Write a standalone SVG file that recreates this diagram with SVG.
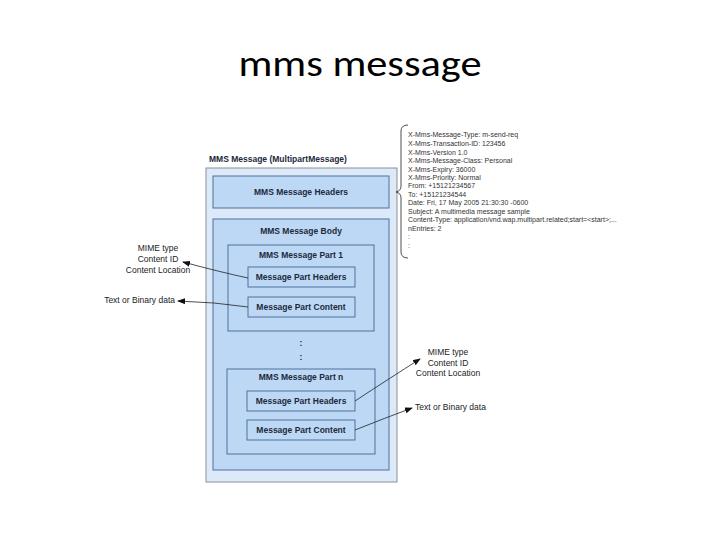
<svg xmlns="http://www.w3.org/2000/svg" width="720" height="540" viewBox="0 0 720 540">
<defs>
<style>
.outer{fill:#dce9f8;stroke:#8a9099;stroke-width:1}
.box{fill:#bcd8f5;stroke:#50709a;stroke-width:1}
.lbl{font-family:"Liberation Sans",Arial,sans-serif;font-weight:bold;font-size:8.5px;fill:#1c2a3c;text-anchor:middle}
.note{font-family:"Liberation Sans",Arial,sans-serif;font-size:8.5px;fill:#222}
.hdr{font-family:"Liberation Sans",Arial,sans-serif;font-size:7px;fill:#333}
.conn{fill:none;stroke:#222;stroke-width:0.8}
</style>
<marker id="ah" markerWidth="8" markerHeight="6" refX="7" refY="3" orient="auto" markerUnits="userSpaceOnUse">
<path d="M0,0 L8,3 L0,6 z" fill="#111"/>
</marker>
</defs>
<rect width="720" height="540" fill="#fff"/>
<text x="360" y="76" font-family="Carlito,'Open Sans','Noto Sans',sans-serif" font-size="36" text-anchor="middle" fill="#000" textLength="243" lengthAdjust="spacingAndGlyphs">mms message</text>

<g id="mms-message">
<text x="209" y="162" class="lbl" style="text-anchor:start">MMS Message (MultipartMessage)</text>
<rect class="outer" x="206" y="168" width="191" height="314"/>
</g>
<g id="headers">
<rect class="box" x="213" y="176" width="176" height="32"/>
<text x="301" y="195" class="lbl">MMS Message Headers</text>
</g>
<g id="body">
<rect class="box" x="213" y="219" width="176" height="251"/>
<text x="301" y="234" class="lbl">MMS Message Body</text>
</g>
<g id="part1">
<rect class="box" x="228" y="245" width="146" height="86"/>
<text x="301" y="258" class="lbl">MMS Message Part 1</text>
</g>
<g id="part1-headers">
<rect class="box" x="248" y="267" width="107" height="20"/>
<text x="301" y="280" class="lbl">Message Part Headers</text>
</g>
<g id="part1-content">
<rect class="box" x="248" y="297" width="107" height="20"/>
<text x="301" y="310" class="lbl">Message Part Content</text>
</g>
<g id="dots">
<text x="301" y="346" class="lbl">:</text>
<text x="301" y="360" class="lbl">:</text>
</g>
<g id="partn">
<rect class="box" x="227" y="369" width="148" height="85"/>
<text x="301" y="380" class="lbl">MMS Message Part n</text>
</g>
<g id="partn-headers">
<rect class="box" x="247" y="391" width="108" height="20"/>
<text x="301" y="404" class="lbl">Message Part Headers</text>
</g>
<g id="partn-content">
<rect class="box" x="247" y="420" width="108" height="20"/>
<text x="301" y="433" class="lbl">Message Part Content</text>
</g>

<g id="left-notes" class="note">
<text x="158" y="251" text-anchor="middle">MIME type</text>
<text x="158" y="262" text-anchor="middle">Content ID</text>
<text x="158" y="273" text-anchor="middle">Content Location</text>
<text x="175" y="303" text-anchor="end">Text or Binary data</text>
</g>
<g id="right-notes" class="note">
<text x="448" y="355" text-anchor="middle">MIME type</text>
<text x="448" y="366" text-anchor="middle">Content ID</text>
<text x="448" y="376" text-anchor="middle">Content Location</text>
<text x="415" y="410">Text or Binary data</text>
</g>

<g id="header-list" class="hdr">
<text x="408" y="137">X-Mms-Message-Type: m-send-req</text>
<text x="408" y="146">X-Mms-Transaction-ID: 123456</text>
<text x="408" y="154.5">X-Mms-Version 1.0</text>
<text x="408" y="163">X-Mms-Message-Class: Personal</text>
<text x="408" y="171.5">X-Mms-Expiry: 36000</text>
<text x="408" y="180">X-Mms-Priority: Normal</text>
<text x="408" y="188">From: +15121234567</text>
<text x="408" y="197">To:   +15121234544</text>
<text x="408" y="205">Date: Fri, 17 May 2005 21:30:30 -0600</text>
<text x="408" y="213.5">Subject: A multimedia message sample</text>
<text x="408" y="222">Content-Type: application/vnd.wap.multipart.related;start=&lt;start&gt;;...</text>
<text x="408" y="230.5">nEntries: 2</text>
<text x="408" y="239">:</text>
<text x="408" y="247.5">:</text>
</g>

<g id="connectors">
<path class="conn" d="M248,278 Q220,272 183,262" marker-end="url(#ah)"/>
<path class="conn" d="M248,307 Q215,302 178,301" marker-end="url(#ah)"/>
<path class="conn" d="M355,401 Q390,378 420,359" marker-end="url(#ah)"/>
<path class="conn" d="M355,430 Q385,418 412,408" marker-end="url(#ah)"/>
<path class="conn" d="M408,125 Q401,125 401,131 L401,186 Q401,191 396,192 Q401,193 401,198 L401,252 Q401,258 408,258" stroke="#555"/>
</g>
</svg>
